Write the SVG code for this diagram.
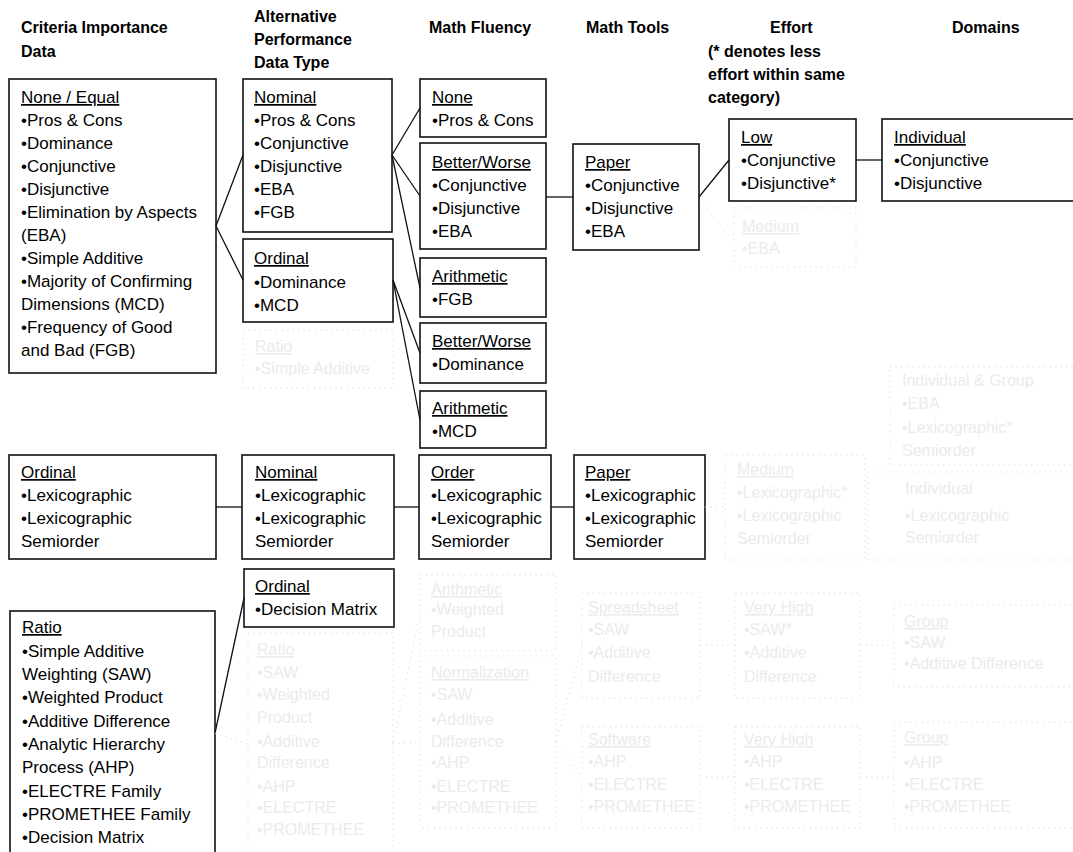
<svg xmlns="http://www.w3.org/2000/svg" width="1073" height="852" viewBox="0 0 1073 852">
<style>
text{font-family:"Liberation Sans",Arial,sans-serif;font-size:17px;fill:#000}
.h{font-weight:bold;font-size:16px}
.u{text-decoration:underline}
.box{fill:none;stroke:#111;stroke-width:1.6}
.con{fill:none;stroke:#111;stroke-width:1.3}
.g text{fill:#ebebeb;font-size:16px}
.gbox{fill:none;stroke:#e0e0e0;stroke-width:1;stroke-dasharray:1.5 4}
</style>
<rect width="1073" height="852" fill="#fff"/>

<g id="headers">
<text class="h" x="21" y="33">Criteria Importance</text>
<text class="h" x="21" y="57">Data</text>
<text class="h" x="254" y="22">Alternative</text>
<text class="h" x="254" y="45">Performance</text>
<text class="h" x="254" y="68">Data Type</text>
<text class="h" x="429" y="33">Math Fluency</text>
<text class="h" x="586" y="33">Math Tools</text>
<text class="h" x="770" y="33">Effort</text>
<text class="h" x="708" y="57">(* denotes less</text>
<text class="h" x="708" y="80">effort within same</text>
<text class="h" x="708" y="103">category)</text>
<text class="h" x="952" y="33">Domains</text>
</g>

<g id="connectors">
<polyline class="con" points="243,155 216,226 243,280"/>
<line class="con" x1="392" y1="155" x2="420" y2="108"/>
<line class="con" x1="392" y1="155" x2="420" y2="196"/>
<line class="con" x1="392" y1="155" x2="420" y2="288"/>
<line class="con" x1="393" y1="280" x2="420" y2="353"/>
<line class="con" x1="393" y1="280" x2="420" y2="420"/>
<line class="con" x1="546" y1="197" x2="573" y2="197"/>
<line class="con" x1="699" y1="197" x2="729" y2="160"/>
<line class="con" x1="856" y1="160" x2="882" y2="160"/>
<line class="con" x1="216" y1="507" x2="242" y2="507"/>
<line class="con" x1="394" y1="507" x2="419" y2="507"/>
<line class="con" x1="551" y1="507" x2="574" y2="507"/>
<line class="con" x1="215" y1="733" x2="244" y2="598"/>
</g>

<g id="n-none-equal">
<rect class="box" x="9" y="79" width="207" height="294"/>
<text x="21" y="103" class="u">None / Equal</text>
<text x="21" y="126">•Pros &amp; Cons</text>
<text x="21" y="149">•Dominance</text>
<text x="21" y="172">•Conjunctive</text>
<text x="21" y="195">•Disjunctive</text>
<text x="21" y="218">•Elimination by Aspects</text>
<text x="21" y="241">(EBA)</text>
<text x="21" y="264">•Simple Additive</text>
<text x="21" y="287">•Majority of Confirming</text>
<text x="21" y="310">Dimensions (MCD)</text>
<text x="21" y="333">•Frequency of Good</text>
<text x="21" y="356">and Bad (FGB)</text>
</g>

<g id="n-nominal-1">
<rect class="box" x="243" y="79" width="149" height="153"/>
<text x="254" y="103" class="u">Nominal</text>
<text x="254" y="126">•Pros &amp; Cons</text>
<text x="254" y="149">•Conjunctive</text>
<text x="254" y="172">•Disjunctive</text>
<text x="254" y="195">•EBA</text>
<text x="254" y="218">•FGB</text>
</g>

<g id="n-ordinal-1">
<rect class="box" x="243" y="239" width="150" height="83"/>
<text x="254" y="264" class="u">Ordinal</text>
<text x="254" y="288">•Dominance</text>
<text x="254" y="311">•MCD</text>
</g>

<g id="n-none">
<rect class="box" x="420" y="79" width="126" height="58"/>
<text x="432" y="103" class="u">None</text>
<text x="432" y="126">•Pros &amp; Cons</text>
</g>

<g id="n-better-worse-1">
<rect class="box" x="420" y="143" width="126" height="106"/>
<text x="432" y="168" class="u">Better/Worse</text>
<text x="432" y="191">•Conjunctive</text>
<text x="432" y="214">•Disjunctive</text>
<text x="432" y="237">•EBA</text>
</g>

<g id="n-arithmetic-1">
<rect class="box" x="420" y="258" width="126" height="59"/>
<text x="432" y="282" class="u">Arithmetic</text>
<text x="432" y="305">•FGB</text>
</g>

<g id="n-better-worse-2">
<rect class="box" x="420" y="323" width="126" height="60"/>
<text x="432" y="347" class="u">Better/Worse</text>
<text x="432" y="370">•Dominance</text>
</g>

<g id="n-arithmetic-2">
<rect class="box" x="420" y="391" width="126" height="57"/>
<text x="432" y="414" class="u">Arithmetic</text>
<text x="432" y="437">•MCD</text>
</g>

<g id="n-paper-1">
<rect class="box" x="573" y="144" width="126" height="106"/>
<text x="585" y="168" class="u">Paper</text>
<text x="585" y="191">•Conjunctive</text>
<text x="585" y="214">•Disjunctive</text>
<text x="585" y="237">•EBA</text>
</g>

<g id="n-low">
<rect class="box" x="729" y="119" width="127" height="82"/>
<text x="741" y="143" class="u">Low</text>
<text x="741" y="166">•Conjunctive</text>
<text x="741" y="189">•Disjunctive*</text>
</g>

<g id="n-individual">
<rect class="box" x="882" y="119" width="200" height="82"/>
<text x="894" y="143" class="u">Individual</text>
<text x="894" y="166">•Conjunctive</text>
<text x="894" y="189">•Disjunctive</text>
</g>

<g id="n-ordinal-2">
<rect class="box" x="9" y="455" width="207" height="104"/>
<text x="21" y="478" class="u">Ordinal</text>
<text x="21" y="501">•Lexicographic</text>
<text x="21" y="524">•Lexicographic</text>
<text x="21" y="547">Semiorder</text>
</g>

<g id="n-nominal-2">
<rect class="box" x="242" y="455" width="152" height="104"/>
<text x="255" y="478" class="u">Nominal</text>
<text x="255" y="501">•Lexicographic</text>
<text x="255" y="524">•Lexicographic</text>
<text x="255" y="547">Semiorder</text>
</g>

<g id="n-order">
<rect class="box" x="419" y="455" width="132" height="104"/>
<text x="431" y="478" class="u">Order</text>
<text x="431" y="501">•Lexicographic</text>
<text x="431" y="524">•Lexicographic</text>
<text x="431" y="547">Semiorder</text>
</g>

<g id="n-paper-2">
<rect class="box" x="574" y="455" width="131" height="104"/>
<text x="585" y="478" class="u">Paper</text>
<text x="585" y="501">•Lexicographic</text>
<text x="585" y="524">•Lexicographic</text>
<text x="585" y="547">Semiorder</text>
</g>

<g id="n-ordinal-3">
<rect class="box" x="244" y="569" width="150" height="58"/>
<text x="255" y="592" class="u">Ordinal</text>
<text x="255" y="615">•Decision Matrix</text>
</g>

<g id="n-ratio">
<rect class="box" x="10" y="611" width="205" height="250"/>
<text x="22" y="633" class="u">Ratio</text>
<text x="22" y="657">•Simple Additive</text>
<text x="22" y="680">Weighting (SAW)</text>
<text x="22" y="703">•Weighted Product</text>
<text x="22" y="727">•Additive Difference</text>
<text x="22" y="750">•Analytic Hierarchy</text>
<text x="22" y="773">Process (AHP)</text>
<text x="22" y="797">•ELECTRE Family</text>
<text x="22" y="820">•PROMETHEE Family</text>
<text x="22" y="843">•Decision Matrix</text>
</g>

<g id="ghost" class="g">
<g id="ghost-connectors">
<line class="gbox" x1="700" y1="200" x2="730" y2="238"/>
<line class="gbox" x1="705" y1="507" x2="725" y2="507"/>
<line class="gbox" x1="215" y1="733" x2="248" y2="744"/>
<line class="gbox" x1="393" y1="744" x2="420" y2="612"/>
<line class="gbox" x1="393" y1="744" x2="420" y2="742"/>
<line class="gbox" x1="556" y1="742" x2="582" y2="645"/>
<line class="gbox" x1="556" y1="742" x2="582" y2="777"/>
<line class="gbox" x1="700" y1="645" x2="735" y2="645"/>
<line class="gbox" x1="700" y1="777" x2="735" y2="777"/>
<line class="gbox" x1="860" y1="645" x2="894" y2="645"/>
<line class="gbox" x1="860" y1="777" x2="894" y2="777"/>
</g>
<g id="g-medium-1">
<rect class="gbox" x="734" y="208" width="122" height="59"/>
<text x="742" y="232" class="u">Medium</text>
<text x="742" y="254">•EBA</text>
</g>
<g id="g-ratio-1">
<rect class="gbox" x="243" y="330" width="150" height="58"/>
<text x="255" y="352" class="u">Ratio</text>
<text x="255" y="374">•Simple Additive</text>
</g>
<g id="g-domains-1">
<rect class="gbox" x="890" y="367" width="190" height="98"/>
<text x="902" y="386">Individual &amp; Group</text>
<text x="902" y="409">•EBA</text>
<text x="902" y="433">•Lexicographic*</text>
<text x="902" y="456">Semiorder</text>
</g>
<g id="g-medium-2">
<rect class="gbox" x="725" y="455" width="140" height="105"/>
<text x="737" y="475" class="u">Medium</text>
<text x="737" y="498">•Lexicographic*</text>
<text x="737" y="521">•Lexicographic</text>
<text x="737" y="544">Semiorder</text>
</g>
<g id="g-domains-2">
<rect class="gbox" x="868" y="472" width="212" height="88"/>
<text x="905" y="494">Individual</text>
<text x="905" y="521">•Lexicographic</text>
<text x="905" y="543">Semiorder</text>
</g>
<g id="g-ratio-2">
<rect class="gbox" x="248" y="633" width="145" height="225"/>
<text x="257" y="655" class="u">Ratio</text>
<text x="257" y="678">•SAW</text>
<text x="257" y="700">•Weighted</text>
<text x="257" y="723">Product</text>
<text x="257" y="747">•Additive</text>
<text x="257" y="768">Difference</text>
<text x="257" y="792">•AHP</text>
<text x="257" y="813">•ELECTRE</text>
<text x="257" y="835">•PROMETHEE</text>
</g>
<g id="g-arith-3">
<rect class="gbox" x="420" y="575" width="136" height="75"/>
<text x="431" y="595" class="u">Arithmetic</text>
<text x="431" y="615">•Weighted</text>
<text x="431" y="637">Product</text>
</g>
<g id="g-norm">
<rect class="gbox" x="420" y="656" width="136" height="172"/>
<text x="431" y="678" class="u">Normalization</text>
<text x="431" y="700">•SAW</text>
<text x="431" y="725">•Additive</text>
<text x="431" y="747">Difference</text>
<text x="431" y="768">•AHP</text>
<text x="431" y="792">•ELECTRE</text>
<text x="431" y="813">•PROMETHEE</text>
</g>
<g id="g-spreadsheet">
<rect class="gbox" x="582" y="593" width="118" height="105"/>
<text x="588" y="613" class="u">Spreadsheet</text>
<text x="588" y="635">•SAW</text>
<text x="588" y="658">•Additive</text>
<text x="588" y="682">Difference</text>
</g>
<g id="g-software">
<rect class="gbox" x="582" y="727" width="118" height="101"/>
<text x="588" y="745" class="u">Software</text>
<text x="588" y="767">•AHP</text>
<text x="588" y="790">•ELECTRE</text>
<text x="588" y="812">•PROMETHEE</text>
</g>
<g id="g-veryhigh-1">
<rect class="gbox" x="735" y="593" width="125" height="105"/>
<text x="744" y="613" class="u">Very High</text>
<text x="744" y="635">•SAW*</text>
<text x="744" y="658">•Additive</text>
<text x="744" y="682">Difference</text>
</g>
<g id="g-veryhigh-2">
<rect class="gbox" x="735" y="727" width="125" height="101"/>
<text x="744" y="745" class="u">Very High</text>
<text x="744" y="767">•AHP</text>
<text x="744" y="790">•ELECTRE</text>
<text x="744" y="812">•PROMETHEE</text>
</g>
<g id="g-group-1">
<rect class="gbox" x="894" y="605" width="190" height="82"/>
<text x="904" y="627" class="u">Group</text>
<text x="904" y="648">•SAW</text>
<text x="904" y="669">•Additive Difference</text>
</g>
<g id="g-group-2">
<rect class="gbox" x="894" y="722" width="190" height="106"/>
<text x="904" y="743" class="u">Group</text>
<text x="904" y="768">•AHP</text>
<text x="904" y="790">•ELECTRE</text>
<text x="904" y="812">•PROMETHEE</text>
</g>
</g>
</svg>
